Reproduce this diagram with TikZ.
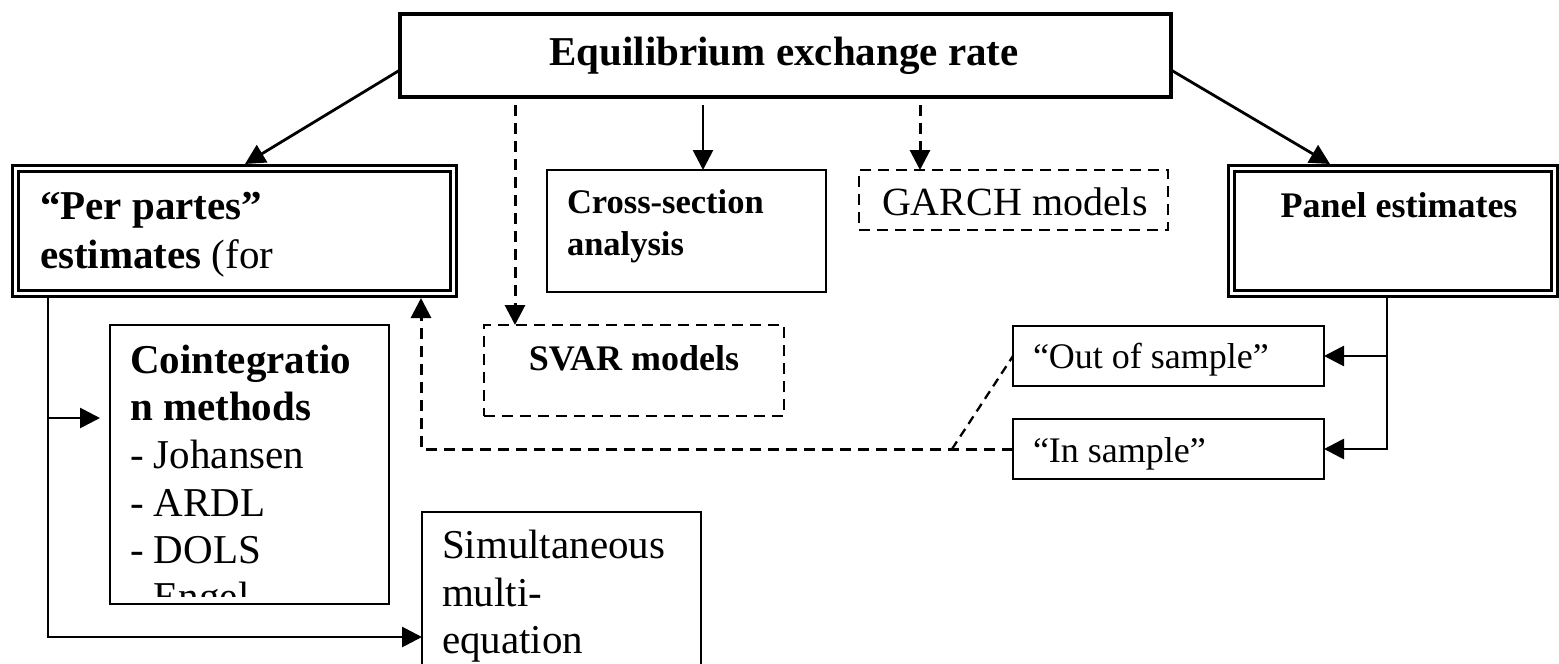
\documentclass[tikz,border=0pt]{standalone}
\usepackage{fontspec}
\setmainfont{Liberation Serif}
\usetikzlibrary{arrows.meta}

% type sizes (1pt = 1 unit of the picture)
\newcommand\szLarge{\fontsize{41}{47}\selectfont}
\newcommand\szGarch{\fontsize{40}{46}\selectfont}
\newcommand\szMid{\fontsize{36}{42}\selectfont}
\newcommand\szCross{\fontsize{34.5}{42}\selectfont}

\begin{document}
\begin{tikzpicture}[x=1pt,y=-1pt,
  frame/.style={draw, rectangle, line width=2.8pt, inner sep=0pt, outer sep=0pt},
  dframe/.style={frame, dash pattern=on 11pt off 7pt},
  twin/.style={draw, rectangle, inner sep=0pt, outer sep=0pt,
               line width=2.7pt, double, double distance=3.6pt},
  headbox/.style={draw, rectangle, line width=4.4pt, inner sep=0pt, outer sep=0pt},
  link/.style={line width=2.8pt, -{Triangle[length=20pt,width=20pt]}},
  dlink/.style={link, line width=3pt, dash pattern=on 11pt off 7pt},
  dline/.style={line width=2.3pt, dash pattern=on 9pt off 6pt},
  txt/.style={inner sep=0pt, outer sep=0pt, anchor=base west},
  txtc/.style={inner sep=0pt, outer sep=0pt, anchor=base}]

\fill[white] (0,0) rectangle (1559,664);
\useasboundingbox (0,0) rectangle (1559,664);

% ---------- boxes ----------
\node[headbox, minimum width=771pt, minimum height=83pt]  (main)   at (785.5,55.5) {};
\node[twin,    minimum width=438pt, minimum height=125pt] (parts)  at (234.5,231)  {};
\node[twin,    minimum width=323pt, minimum height=125pt] (panel)  at (1393,231)   {};
\node[frame,   minimum width=279pt, minimum height=122pt] (cross)  at (686.5,231)  {};
\node[dframe,  minimum width=309pt, minimum height=60pt]  (garch)  at (1013.5,200) {};
\node[dframe,  minimum width=300pt, minimum height=91pt]  (svar)   at (634,370.5)  {};
\node[frame,   minimum width=279pt, minimum height=279pt] (coint)  at (249.5,464.5){};
\node[frame,   minimum width=279pt, minimum height=188pt] (simult) at (561.5,606)  {};
\node[frame,   minimum width=311pt, minimum height=60pt]  (outs)   at (1168.5,356) {};
\node[frame,   minimum width=311pt, minimum height=60pt]  (ins)    at (1168.5,449) {};

% ---------- texts ----------
\node[txtc, font=\szLarge\bfseries] (ttl) at (784,65) {Equilibrium exchange rate};
\node[txt, font=\szLarge] (pp1) at (40,219) {\textbf{“Per partes”}};
\node[txt, font=\szLarge] (pp2) at (40,268) {\textbf{estimates} (for};
\node[txt, font=\szCross\bfseries] (cs1) at (567,213) {Cross-section};
\node[txt, font=\szCross\bfseries] (cs2) at (567,255) {analysis};
\node[txt, font=\szGarch] (gm) at (882,215) {GARCH models};
\node[txtc, font=\szMid\bfseries] (pe) at (1399,217) {Panel estimates};
\node[txtc, font=\szMid\bfseries] (sv) at (634,370) {SVAR models};
\node[txt, font=\szMid] (os) at (1033,368) {“Out of sample”};
\node[txt, font=\szMid] (is) at (1033,462) {“In sample”};

\begin{scope}
  \clip (111,326) rectangle (388,596);
  \node[txt, font=\szLarge\bfseries] (ci1) at (130,373) {Cointegratio};
  \node[txt, font=\szLarge\bfseries] (ci2) at (130,420) {n methods};
  \node[txt, font=\szLarge] (ci3) at (130,468) {- Johansen};
  \node[txt, font=\szLarge] (ci4) at (130,516) {- ARDL};
  \node[txt, font=\szLarge] (ci5) at (130,563) {- DOLS};
  \node[txt, font=\szLarge] (ci6) at (130,610) {- Engel};
\end{scope}

\node[txt, font=\szLarge] (sm1) at (442,558) {Simultaneous};
\node[txt, font=\szLarge] (sm2) at (442,606) {multi-};
\node[txt, font=\szLarge] (sm3) at (442,653) {equation};

% ---------- connectors from the head box ----------
\draw[link] ([yshift=-14.5pt]main.west) -- ([xshift=10.5pt,yshift=4.5pt]parts.north);
\draw[link] ([yshift=-14.5pt]main.east) -- ([xshift=-63pt,yshift=4.5pt]panel.north);
\draw[dlink] ([xshift=-270.5pt,yshift=-8pt]main.south) -- ([xshift=-119pt]svar.north);
\draw[link]  ([xshift=-82.5pt,yshift=-8pt]main.south) -- ([xshift=16.5pt]cross.north);
\draw[dlink] ([xshift=134.5pt,yshift=-8pt]main.south) -- ([xshift=-93.5pt]garch.north);

% ---------- "per partes" branch ----------
\draw[link] ([xshift=-186.5pt,yshift=-4.5pt]parts.south) |- ([yshift=-31pt]simult.west);
\draw[link] ([xshift=-62pt,yshift=46.5pt]coint.west) -- ([xshift=-10pt,yshift=46.5pt]coint.west);

% ---------- panel branch ----------
\draw[link] ([xshift=-6pt,yshift=-4.5pt]panel.south) |- (ins.east);
\draw[link] ([xshift=63pt]outs.east) -- (outs.east);

% ---------- dashed feedback to the per partes box ----------
\draw[dlink] (ins.west) -| ([xshift=186.5pt,yshift=-4.5pt]parts.south);
\draw[dline] ([xshift=-61pt]ins.west) -- (outs.west);

\end{tikzpicture}
\end{document}
